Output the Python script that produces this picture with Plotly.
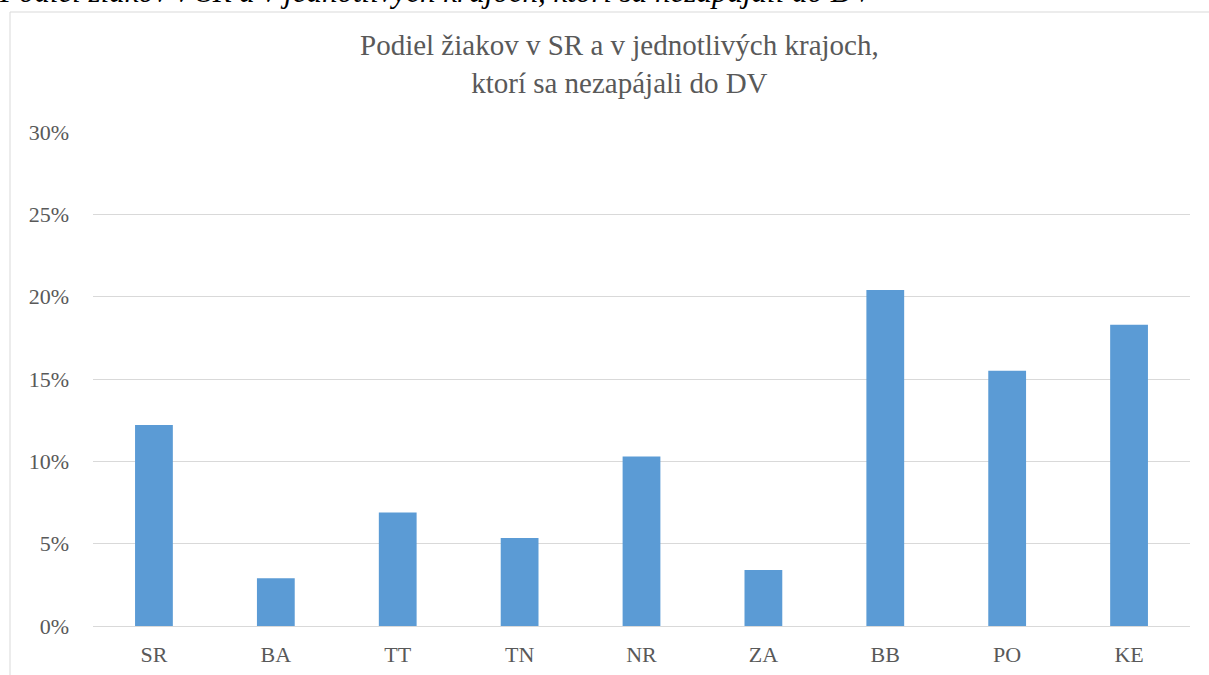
import plotly.graph_objects as go

categories = ["SR", "BA", "TT", "TN", "NR", "ZA", "BB", "PO", "KE"]
values = [0.122, 0.029, 0.069, 0.0535, 0.103, 0.034, 0.204, 0.155, 0.183]
y_ticks = [0, 0.05, 0.10, 0.15, 0.20, 0.25, 0.30]
y_tick_labels = ["0%", "5%", "10%", "15%", "20%", "25%", "30%"]
chart_title = "Podiel žiakov v SR a v jednotlivých krajoch,<br>ktorí sa nezapájali do DV"
caption = "Podiel žiakov v SR a v jednotlivých krajoch, ktorí sa nezapájali do DV"

W, H = 1209, 675
L, R, T, B = 93, 19, 132, 49
pw = W - L - R
ph = H - T - B

def px_x(px):
    return (px - L) / pw

def px_y(py):
    return (H - B - py) / ph

FONT = "Liberation Serif, Times New Roman, serif"
GREY = "#595959"

fig = go.Figure(go.Bar(
    x=categories, y=values,
    marker=dict(color="#5b9bd5", line=dict(width=0)),
    width=0.31,
))

fig.update_layout(
    width=W, height=H,
    margin=dict(l=L, r=R, t=T, b=B, autoexpand=False),
    paper_bgcolor="white", plot_bgcolor="white",
    showlegend=False,
    font=dict(family=FONT, size=22, color=GREY),
    xaxis=dict(showgrid=False, showline=False, ticks="", zeroline=False,
               automargin=False,
               ticklabelstandoff=13, tickfont=dict(size=22, color=GREY)),
    yaxis=dict(range=[0, 0.30], tickvals=y_ticks, ticktext=y_tick_labels,
               automargin=False,
               showgrid=True, gridcolor="#d9d9d9", gridwidth=1,
               zeroline=True, zerolinecolor="#d9d9d9", zerolinewidth=1,
               showline=False, ticks="", ticklabelstandoff=23,
               tickfont=dict(size=22, color=GREY)),
    shapes=[dict(type="rect", xref="paper", yref="paper",
                 x0=px_x(10), x1=px_x(W + 20), y0=px_y(12), y1=px_y(H + 20),
                 line=dict(color="#d9d9d9", width=1), fillcolor="rgba(0,0,0,0)",
                 layer="below")],
    annotations=[
        dict(text=chart_title, xref="paper", yref="paper",
             x=px_x(619), y=px_y(64), xanchor="center", yanchor="middle",
             showarrow=False, align="center",
             font=dict(family=FONT, size=29, color=GREY)),
        dict(text="<i>" + caption + "</i>", xref="paper", yref="paper",
             x=px_x(-3), y=px_y(11), xanchor="left", yanchor="bottom",
             showarrow=False, align="left",
             font=dict(family=FONT, size=31, color="black")),
    ],
)

fig.write_html("out.html", config={"displayModeBar": False},
               post_script="document.body.style.margin='0';")
